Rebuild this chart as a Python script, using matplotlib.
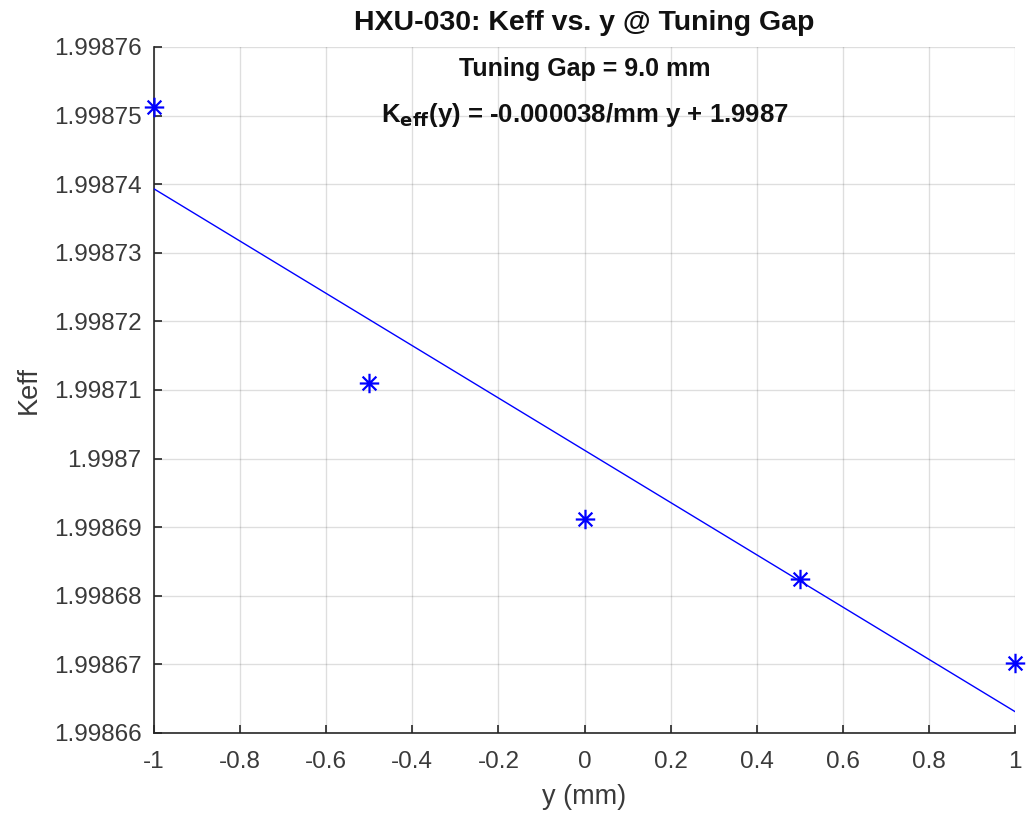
import numpy as np
import matplotlib
matplotlib.use("Agg")
import matplotlib.pyplot as plt
from matplotlib.path import Path

plt.rcParams['font.family'] = ['Liberation Sans', 'DejaVu Sans']

y_mm = [-1.0, -0.5, 0.0, 0.5, 1.0]
keff = [1.9987512, 1.9987110, 1.9986912, 1.9986825, 1.9986702]
xticks = [-1, -0.8, -0.6, -0.4, -0.2, 0, 0.2, 0.4, 0.6, 0.8, 1]
xticklabels = ['-1', '-0.8', '-0.6', '-0.4', '-0.2', '0', '0.2', '0.4', '0.6', '0.8', '1']
yticks = [1.99866, 1.99867, 1.99868, 1.99869, 1.99870, 1.99871, 1.99872, 1.99873, 1.99874, 1.99875, 1.99876]
yticklabels = ['1.99866', '1.99867', '1.99868', '1.99869', '1.9987', '1.99871', '1.99872',
               '1.99873', '1.99874', '1.99875', '1.99876']

# MATLAB-style 8-arm asterisk marker
d = 0.7071
verts = [(-1, 0), (1, 0), (0, -1), (0, 1), (-d, -d), (d, d), (-d, d), (d, -d)]
codes = [Path.MOVETO, Path.LINETO] * 4
asterisk = Path(verts, codes)

fig = plt.figure(figsize=(10.26, 8.25), dpi=100)
ax = fig.add_axes([154/1026, 1 - 733/825, (1015-154)/1026, (733-47)/825])

coef = np.polyfit(y_mm, keff, 1)
xf = np.linspace(-1, 1, 50)
ax.plot(xf, np.polyval(coef, xf), color='#0000ff', lw=1.0, zorder=3)
ax.plot(y_mm, keff, linestyle='none', marker=asterisk, color='#0000ff', markersize=14,
        markeredgewidth=1.6, fillstyle='none', zorder=4, clip_on=False)
ax.set_xlim(-1, 1)
ax.set_ylim(1.99866, 1.99876)
ax.set_xticks(xticks)
ax.set_xticklabels(xticklabels)
ax.set_yticks(yticks)
ax.set_yticklabels(yticklabels)
ax.grid(True, color='#262626', alpha=0.15, lw=1.0)
for s in ['top', 'right']:
    ax.spines[s].set_visible(False)
for s in ['left', 'bottom']:
    ax.spines[s].set_color('#262626')
    ax.spines[s].set_linewidth(1.2)
ax.tick_params(direction='in', length=6, width=1.2, colors='#262626', labelsize=17.5,
               labelcolor='#3a3a3a')
ax.tick_params(axis='x', pad=13)
ax.tick_params(axis='y', pad=9)
ax.set_xlabel('y (mm)', fontsize=19.5, color='#3a3a3a', labelpad=8)
ax.set_ylabel('Keff', fontsize=19.5, color='#3a3a3a', labelpad=9)
ax.set_title('HXU-030: Keff vs. y @ Tuning Gap', fontsize=20.5, fontweight='bold',
             color='#111111', pad=12)
ax.text(0.5, 0.968, 'Tuning Gap = 9.0 mm', transform=ax.transAxes, ha='center', va='center',
        fontsize=18, fontweight='bold', color='#111111')
ax.text(0.5, 0.901, r'K$_{\mathbf{eff}}$(y) = -0.000038/mm y + 1.9987', transform=ax.transAxes,
        ha='center', va='center', fontsize=18.5, fontweight='bold', color='#111111')

fig.savefig('out.png', dpi=100)
